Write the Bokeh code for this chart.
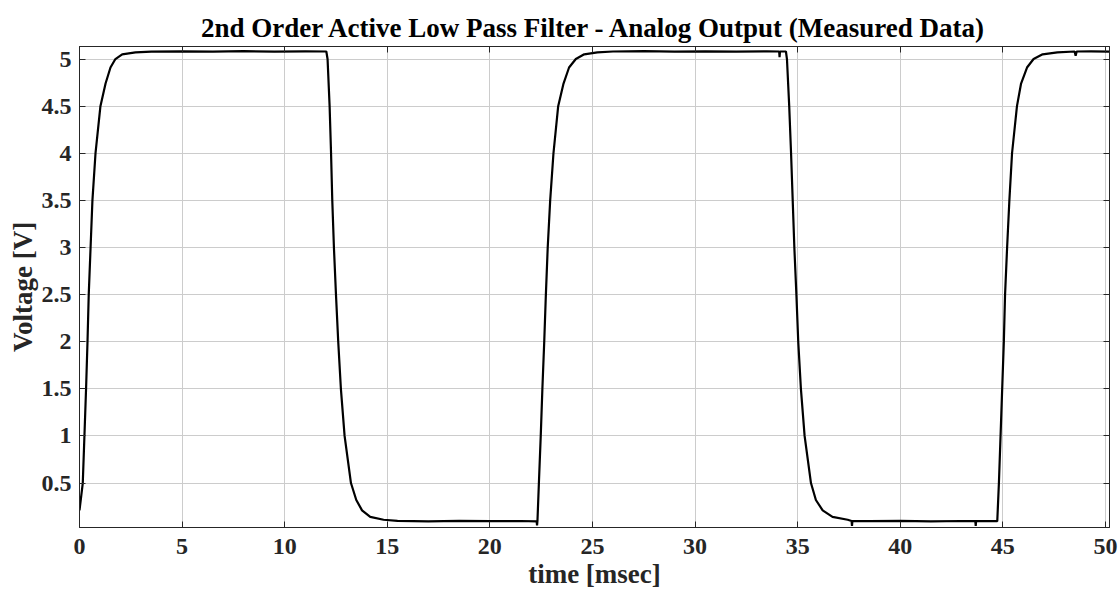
from bokeh.plotting import figure
from bokeh.models import Range1d, LinearAxis, FixedTicker
from bokeh.embed import file_html
from bokeh.resources import INLINE

# ---- data (time in ms, voltage in V) ----
rise0_t = [0.00, 0.16, 0.24, 0.32, 0.39, 0.45, 0.54, 0.63, 0.78, 1.02, 1.27, 1.51, 1.75, 2.08, 2.73]
rise0_v = [0.21, 0.50, 1.00, 1.50, 2.00, 2.50, 3.00, 3.50, 4.00, 4.50, 4.74, 4.91, 5.00, 5.05, 5.07]
high1_t = [3.50, 5.00, 6.50, 8.00, 9.50, 11.00, 12.03]
high1_v = [5.078, 5.082, 5.079, 5.083, 5.078, 5.081, 5.080]
fall1_t = [12.09, 12.19, 12.26, 12.32, 12.40, 12.50, 12.61, 12.74, 12.92, 13.23, 13.49, 13.77, 14.17, 14.82]
fall1_v = [5.00, 4.50, 4.00, 3.50, 3.00, 2.50, 2.00, 1.50, 1.00, 0.50, 0.32, 0.21, 0.14, 0.11]
low1_t = [15.50, 17.00, 18.50, 20.00, 21.50, 22.28, 22.30]
low1_v = [0.098, 0.094, 0.099, 0.095, 0.097, 0.094, 0.05]
rise2_t = [22.32, 22.39, 22.48, 22.56, 22.65, 22.73, 22.82, 22.94, 23.10, 23.33, 23.59, 23.86, 24.19, 24.60, 25.24]
rise2_v = [0.10, 0.50, 1.00, 1.50, 2.00, 2.50, 3.00, 3.50, 4.00, 4.50, 4.74, 4.91, 5.00, 5.05, 5.07]
high2_t = [26.00, 27.50, 29.00, 30.50, 32.00, 33.50, 34.10, 34.12, 34.14, 34.43]
high2_v = [5.080, 5.083, 5.078, 5.082, 5.079, 5.081, 5.080, 5.020, 5.080, 5.080]
fall2_t = [34.48, 34.59, 34.68, 34.76, 34.84, 34.94, 35.03, 35.16, 35.34, 35.65, 35.89, 36.22, 36.70, 37.44]
fall2_v = [5.00, 4.50, 4.00, 3.50, 3.00, 2.50, 2.00, 1.50, 1.00, 0.50, 0.32, 0.21, 0.14, 0.11]
low2_t = [37.63, 37.65, 37.67, 38.50, 40.00, 41.50, 43.00, 43.66, 43.68, 43.70, 44.73]
low2_v = [0.097, 0.045, 0.097, 0.095, 0.098, 0.094, 0.097, 0.096, 0.045, 0.096, 0.095]
rise3_t = [44.81, 44.89, 44.97, 45.05, 45.11, 45.21, 45.32, 45.45, 45.69, 45.89, 46.18, 46.50, 46.94, 47.66]
rise3_v = [0.50, 1.00, 1.50, 2.00, 2.50, 3.00, 3.50, 4.00, 4.50, 4.74, 4.91, 5.00, 5.05, 5.07]
high3_t = [48.50, 48.55, 48.60, 49.30, 50.20]
high3_v = [5.080, 5.035, 5.080, 5.082, 5.079]

x_ticks = [0, 5, 10, 15, 20, 25, 30, 35, 40, 45, 50]
y_ticks = [0.5, 1, 1.5, 2, 2.5, 3, 3.5, 4, 4.5, 5]

time_ms = rise0_t + high1_t + fall1_t + low1_t + rise2_t + high2_t + fall2_t + low2_t + rise3_t + high3_t
volt_v = rise0_v + high1_v + fall1_v + low1_v + rise2_v + high2_v + fall2_v + low2_v + rise3_v + high3_v

FONT = "Liberation Serif"
AX = "#262626"

p = figure(width=1118, height=591, output_backend="svg", toolbar_location=None,
           x_range=Range1d(0, 50.2), y_range=Range1d(0.028, 5.133),
           min_border_left=79, min_border_right=9, min_border_top=46, min_border_bottom=64,
           title="2nd Order Active Low Pass Filter - Analog Output (Measured Data)")
p.title.align = "center"
p.title.text_font = FONT
p.title.text_font_style = "bold"
p.title.text_font_size = "27px"
p.title.text_color = "black"
p.title.standoff = 8

p.line(time_ms, volt_v, line_color="black", line_width=2.2)

p.outline_line_color = AX
p.outline_line_width = 1
p.outline_line_alpha = 1

for ax in (p.xaxis[0], p.yaxis[0]):
    ax.major_tick_in = 6
    ax.major_tick_out = 0
    ax.minor_tick_in = 0
    ax.minor_tick_out = 0
    ax.axis_line_color = AX
    ax.major_tick_line_color = AX
    ax.major_label_text_font = FONT
    ax.major_label_text_font_style = "bold"
    ax.major_label_text_font_size = "24px"
    ax.major_label_text_color = AX
    ax.axis_label_text_font = FONT
    ax.axis_label_text_font_style = "bold"
    ax.axis_label_text_font_size = "27px"
    ax.axis_label_text_color = AX

p.xaxis[0].ticker = FixedTicker(ticks=x_ticks)
p.yaxis[0].ticker = FixedTicker(ticks=y_ticks)
p.xaxis[0].axis_label = "time [msec]"
p.yaxis[0].axis_label = "Voltage [V]"
p.xaxis[0].major_label_standoff = 11
p.xaxis[0].axis_label_standoff = 2
p.yaxis[0].major_label_standoff = 8
p.yaxis[0].axis_label_standoff = 1

top_ax = LinearAxis(ticker=FixedTicker(ticks=x_ticks), major_label_text_alpha=0,
                    major_label_text_font_size="1px", major_tick_in=6, major_tick_out=0,
                    minor_tick_in=0, minor_tick_out=0, axis_line_color=AX, major_tick_line_color=AX)
right_ax = LinearAxis(ticker=FixedTicker(ticks=y_ticks), major_label_text_alpha=0,
                      major_label_text_font_size="1px", major_tick_in=6, major_tick_out=0,
                      minor_tick_in=0, minor_tick_out=0, axis_line_color=AX, major_tick_line_color=AX)
p.add_layout(top_ax, "above")
p.add_layout(right_ax, "right")

p.xgrid.ticker = FixedTicker(ticks=x_ticks)
p.ygrid.ticker = FixedTicker(ticks=y_ticks)
p.grid.grid_line_color = "#cccccc"
p.grid.grid_line_width = 1

open("out.html", "w").write(file_html(p, INLINE))
